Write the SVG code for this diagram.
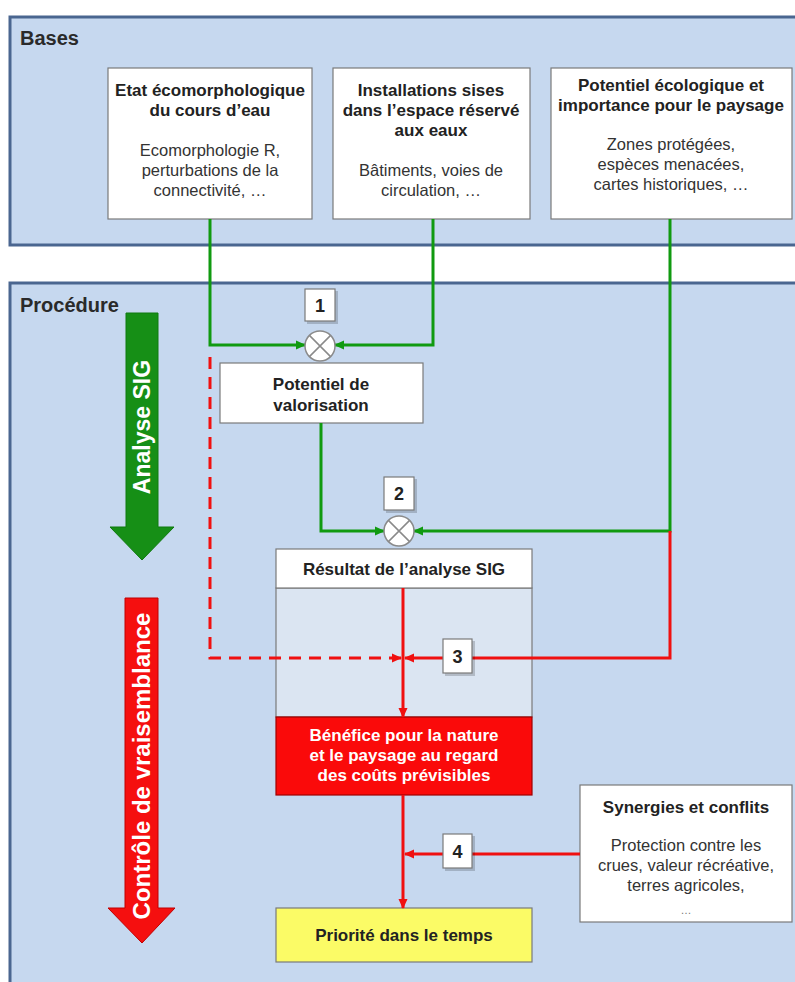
<svg xmlns="http://www.w3.org/2000/svg" width="795" height="982" viewBox="0 0 795 982">
<defs>
<style>
text{font-family:"Liberation Sans",Arial,sans-serif;fill:#222}
.panel{fill:#c6d8ef;stroke:#4a6690;stroke-width:3}
.title{font-size:20px;font-weight:bold;fill:#2a2a2a}
.box{fill:#fff;stroke:#7a7a7a;stroke-width:1.2}
.h{font-size:17px;font-weight:bold;text-anchor:middle}
.t{font-size:16.5px;text-anchor:middle;fill:#333}
.g{fill:none;stroke:#109a10;stroke-width:3}
.r{fill:none;stroke:#f01010;stroke-width:3}
.rd{fill:none;stroke:#f01010;stroke-width:3;stroke-dasharray:12 8}
.num{fill:#fff;stroke:#7a7a7a;stroke-width:1.2}
.sh{fill:#000;opacity:0.18}
.nt{font-size:18px;font-weight:bold;text-anchor:middle}
.circ{fill:#fff;stroke:#8a8a8a;stroke-width:1.5}
.x{stroke:#8a8a8a;stroke-width:1.5}
.big{font-weight:bold;fill:#fff;text-anchor:middle}
</style>
<marker id="ag" markerUnits="userSpaceOnUse" markerWidth="10" markerHeight="10" refX="9" refY="5" orient="auto"><path d="M0,0.5 L10,5 L0,9.5 z" fill="#109a10"/></marker>
<marker id="ar" markerUnits="userSpaceOnUse" markerWidth="10" markerHeight="10" refX="9" refY="5" orient="auto"><path d="M0,0.5 L10,5 L0,9.5 z" fill="#f01010"/></marker>
</defs>
<rect width="795" height="982" fill="#fff"/>

<g id="bases">
<rect class="panel" x="10" y="17" width="800" height="228"/>
<text class="title" x="20" y="45">Bases</text>
</g>
<g id="procedure">
<rect class="panel" x="10" y="283" width="800" height="710"/>
<text class="title" x="20" y="312">Procédure</text>
</g>

<g id="etat">
<rect class="box" x="108" y="68" width="204" height="151"/>
<text class="h" x="210" y="96">Etat écomorphologique</text>
<text class="h" x="210" y="116">du cours d’eau</text>
<text class="t" x="210" y="156">Ecomorphologie R,</text>
<text class="t" x="210" y="176">perturbations de la</text>
<text class="t" x="210" y="196">connectivité, …</text>
</g>
<g id="installations">
<rect class="box" x="333" y="68" width="197" height="151"/>
<text class="h" x="431" y="96">Installations sises</text>
<text class="h" x="431" y="116">dans l’espace réservé</text>
<text class="h" x="431" y="136">aux eaux</text>
<text class="t" x="431" y="176">Bâtiments, voies de</text>
<text class="t" x="431" y="196">circulation, …</text>
</g>
<g id="potentiel-eco">
<rect class="box" x="551" y="68" width="241" height="151"/>
<text class="h" x="671" y="91">Potentiel écologique et</text>
<text class="h" x="671" y="111">importance pour le paysage</text>
<text class="t" x="671" y="150">Zones protégées,</text>
<text class="t" x="671" y="170">espèces menacées,</text>
<text class="t" x="671" y="190">cartes historiques, …</text>
</g>

<g id="arrow-analyse">
<polygon points="126,313 158,313 158,527 174,527 142,560 110,527 126,527" fill="#168f16" stroke="#0f7a0f" stroke-width="1"/>
<text class="big" x="142" y="435" transform="rotate(-90 142 427)" style="font-size:23px">Analyse SIG</text>
</g>
<g id="arrow-controle">
<polygon points="125,598 158,598 158,908 175,908 142,943 108,908 125,908" fill="#f50f0f" stroke="#c00000" stroke-width="1"/>
<text class="big" x="142" y="774" transform="rotate(-90 142 766)" style="font-size:24px">Contrôle de vraisemblance</text>
</g>

<g id="valorisation">
<rect class="box" x="220" y="363" width="203" height="60"/>
<text class="h" x="321" y="390">Potentiel de</text>
<text class="h" x="321" y="411">valorisation</text>
</g>

<g id="resultat">
<rect x="276" y="588" width="256" height="129" fill="#dbe5f2" stroke="#7a7a7a" stroke-width="1.2"/>
<rect class="box" x="276" y="549" width="256" height="39"/>
<text class="h" x="404" y="575">Résultat de l’analyse SIG</text>
</g>
<g id="benefice">
<rect x="276" y="717" width="256" height="78" fill="#fa0a0a" stroke="#a00000" stroke-width="1.2"/>
<text class="h" x="404" y="741" style="fill:#fff">Bénéfice pour la nature</text>
<text class="h" x="404" y="761" style="fill:#fff">et le paysage au regard</text>
<text class="h" x="404" y="781" style="fill:#fff">des coûts prévisibles</text>
</g>
<g id="priorite">
<rect x="276" y="908" width="256" height="54" fill="#fbfb66" stroke="#7a7a7a" stroke-width="1.2"/>
<text class="h" x="404" y="941">Priorité dans le temps</text>
</g>
<g id="synergies">
<rect class="box" x="580" y="785" width="212" height="137"/>
<text class="h" x="686" y="813">Synergies et conflits</text>
<text class="t" x="686" y="851">Protection contre les</text>
<text class="t" x="686" y="871">crues, valeur récréative,</text>
<text class="t" x="686" y="891">terres agricoles,</text>
<text class="t" x="686" y="914" style="font-size:11px;fill:#777">…</text>
</g>

<g id="connectors">
<path class="g" d="M210,219 V345 H305" marker-end="url(#ag)"/>
<path class="g" d="M433,219 V345 H335" marker-end="url(#ag)"/>
<path class="g" d="M321,423 V531 H384" marker-end="url(#ag)"/>
<path class="g" d="M670,219 V531 H414" marker-end="url(#ag)"/>
<path class="r" d="M670,531 V658 H472"/>
<path class="r" d="M443,658 H405" marker-end="url(#ar)"/>
<path class="r" d="M403,588 V717" marker-end="url(#ar)"/>
<path class="rd" d="M210,357 V658 H401" marker-end="url(#ar)"/>
<path class="r" d="M580,854 H472"/>
<path class="r" d="M443,854 H405" marker-end="url(#ar)"/>
<path class="r" d="M403,795 V908" marker-end="url(#ar)"/>
</g>

<g id="op1">
<circle class="circ" cx="320" cy="346" r="15"/>
<path class="x" d="M309.4,335.4 L330.6,356.6 M330.6,335.4 L309.4,356.6"/>
</g>
<g id="op2">
<circle class="circ" cx="399" cy="531" r="15"/>
<path class="x" d="M388.4,520.4 L409.6,541.6 M409.6,520.4 L388.4,541.6"/>
</g>

<g id="n1">
<rect class="sh" x="307" y="291" width="31" height="33"/>
<rect class="num" x="305" y="289" width="30" height="32"/>
<text class="nt" x="320" y="312">1</text>
</g>
<g id="n2">
<rect class="sh" x="386" y="479" width="31" height="34"/>
<rect class="num" x="384" y="477" width="30" height="33"/>
<text class="nt" x="399" y="500">2</text>
</g>
<g id="n3">
<rect class="sh" x="445" y="641" width="30" height="35"/>
<rect class="num" x="443" y="639" width="29" height="34"/>
<text class="nt" x="457.5" y="663">3</text>
</g>
<g id="n4">
<rect class="sh" x="445" y="836" width="30" height="35"/>
<rect class="num" x="443" y="834" width="29" height="34"/>
<text class="nt" x="457.5" y="858">4</text>
</g>
</svg>
